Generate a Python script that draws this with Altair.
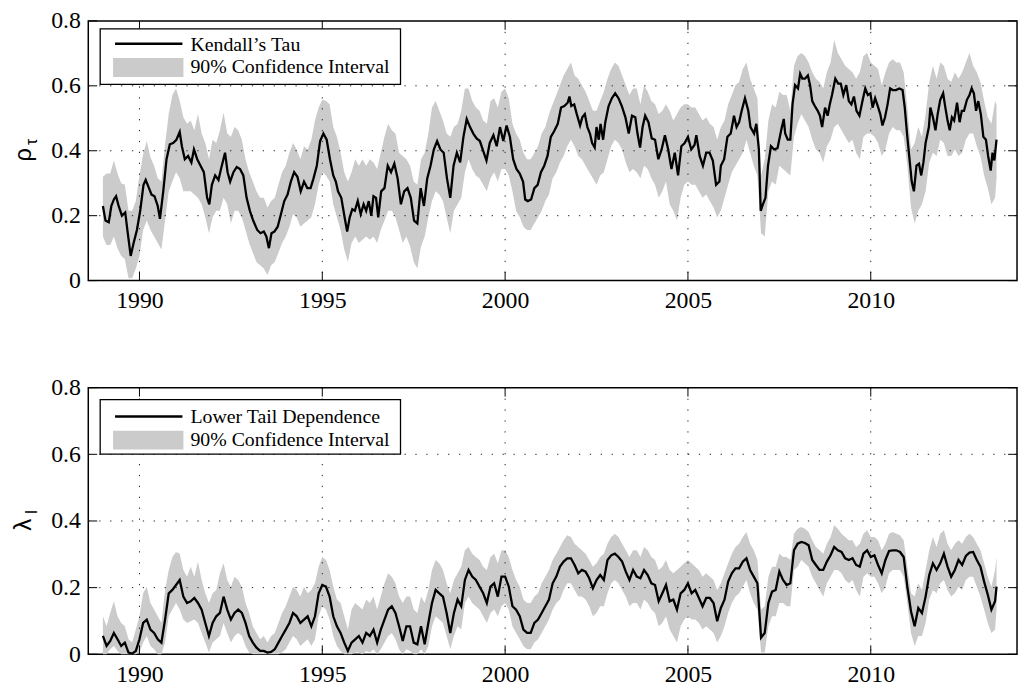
import altair as alt
import pandas as pd

FONT = "'Liberation Serif', 'Times New Roman', Times, serif"
GREEK = "'Liberation Sans', Arial, sans-serif"
BAND = "#cbcbcb"

X_DOMAIN = [1988.6, 2014.0]
X_TICKS = [1990, 1995, 2000, 2005, 2010]
Y_TICKS = [0, 0.2, 0.4, 0.6, 0.8]
Y_GRID = [0.2, 0.4, 0.6]

# sampling dates of the confidence bands and of the tail-dependence line
GRID_YEARS = [round(1989 + i / 10, 2) for i in range(245)] + [2013.44]

# Kendall's tau
TAU_YEARS = [
    1989.00, 1989.07, 1989.16, 1989.23, 1989.30, 1989.36, 1989.43, 1989.52, 1989.61, 1989.68,
    1989.76, 1989.84, 1989.93, 1990.02, 1990.11, 1990.17, 1990.26, 1990.33, 1990.41, 1990.50,
    1990.56, 1990.65, 1990.74, 1990.83, 1990.92, 1991.01, 1991.10, 1991.16, 1991.24, 1991.33,
    1991.42, 1991.49, 1991.58, 1991.67, 1991.76, 1991.85, 1991.91, 1991.98, 1992.07, 1992.16,
    1992.23, 1992.34, 1992.41, 1992.48, 1992.57, 1992.66, 1992.75, 1992.84, 1992.93, 1993.02,
    1993.11, 1993.22, 1993.31, 1993.40, 1993.47, 1993.54, 1993.61, 1993.69, 1993.78, 1993.87,
    1993.96, 1994.05, 1994.14, 1994.23, 1994.32, 1994.41, 1994.50, 1994.59, 1994.68, 1994.76,
    1994.85, 1994.94, 1995.03, 1995.12, 1995.21, 1995.30, 1995.37, 1995.43, 1995.52, 1995.61,
    1995.68, 1995.75, 1995.82, 1995.89, 1995.97, 1996.05, 1996.13, 1996.20, 1996.27, 1996.34,
    1996.40, 1996.47, 1996.53, 1996.61, 1996.70, 1996.79, 1996.88, 1996.97, 1997.06, 1997.15,
    1997.24, 1997.33, 1997.42, 1997.51, 1997.60, 1997.69, 1997.78, 1997.87, 1997.96, 1998.05,
    1998.14, 1998.23, 1998.32, 1998.41, 1998.50, 1998.59, 1998.68, 1998.77, 1998.86, 1998.95,
    1999.04, 1999.13, 1999.22, 1999.31, 1999.40, 1999.49, 1999.58, 1999.68, 1999.77, 1999.86,
    1999.95, 2000.04, 2000.13, 2000.22, 2000.31, 2000.40, 2000.49, 2000.55, 2000.62, 2000.71,
    2000.80, 2000.89, 2000.98, 2001.07, 2001.16, 2001.25, 2001.34, 2001.44, 2001.53, 2001.62,
    2001.71, 2001.76, 2001.81, 2001.89, 2001.96, 2002.05, 2002.11, 2002.18, 2002.25, 2002.32,
    2002.38, 2002.45, 2002.50, 2002.56, 2002.61, 2002.68, 2002.74, 2002.83, 2002.92, 2003.01,
    2003.10, 2003.19, 2003.29, 2003.38, 2003.47, 2003.56, 2003.62, 2003.69, 2003.76, 2003.83,
    2003.92, 2004.01, 2004.10, 2004.19, 2004.28, 2004.37, 2004.46, 2004.55, 2004.64, 2004.73,
    2004.82, 2004.91, 2005.00, 2005.09, 2005.18, 2005.23, 2005.32, 2005.41, 2005.50, 2005.59,
    2005.68, 2005.77, 2005.86, 2005.90, 2005.99, 2006.08, 2006.17, 2006.26, 2006.33, 2006.40,
    2006.47, 2006.56, 2006.65, 2006.71, 2006.81, 2006.87, 2006.94, 2006.99, 2007.05, 2007.12,
    2007.19, 2007.27, 2007.36, 2007.45, 2007.55, 2007.62, 2007.66, 2007.73, 2007.80, 2007.86,
    2007.93, 2008.01, 2008.07, 2008.13, 2008.20, 2008.28, 2008.34, 2008.40, 2008.47, 2008.55,
    2008.61, 2008.67, 2008.75, 2008.82, 2008.88, 2008.94, 2009.03, 2009.11, 2009.18, 2009.25,
    2009.33, 2009.40, 2009.47, 2009.54, 2009.61, 2009.69, 2009.78, 2009.85, 2009.92, 2009.99,
    2010.05, 2010.12, 2010.19, 2010.26, 2010.32, 2010.39, 2010.46, 2010.53, 2010.60, 2010.69,
    2010.78, 2010.87, 2010.93, 2011.00, 2011.06, 2011.12, 2011.18, 2011.25, 2011.32, 2011.38,
    2011.44, 2011.50, 2011.59, 2011.63, 2011.70, 2011.77, 2011.83, 2011.90, 2011.98, 2012.04,
    2012.10, 2012.16, 2012.22, 2012.28, 2012.36, 2012.43, 2012.49, 2012.55, 2012.63, 2012.70,
    2012.76, 2012.82, 2012.88, 2012.94, 2013.01, 2013.08, 2013.15, 2013.21, 2013.28, 2013.33,
    2013.38, 2013.44,
]
TAU_VALUES = [
    .230, .185, .180, .230, .250, .260, .230, .200, .210, .146,
    .076, .116, .156, .215, .295, .310, .285, .265, .260, .230,
    .190, .275, .374, .420, .424, .434, .458, .414, .374, .384,
    .364, .404, .374, .354, .334, .255, .235, .295, .324, .310,
    .344, .394, .334, .305, .334, .350, .344, .324, .255, .215,
    .185, .156, .146, .151, .136, .100, .146, .151, .166, .205,
    .245, .265, .305, .334, .320, .275, .305, .285, .285, .315,
    .354, .430, .453, .434, .374, .324, .305, .275, .255, .195,
    .151, .195, .220, .215, .245, .205, .235, .215, .245, .200,
    .260, .255, .195, .275, .285, .354, .334, .360, .315, .235,
    .275, .285, .255, .185, .176, .285, .230, .315, .354, .404,
    .430, .404, .394, .315, .255, .354, .394, .364, .443, .498,
    .473, .453, .438, .430, .400, .370, .424, .448, .414, .473,
    .430, .478, .443, .374, .344, .330, .305, .250, .245, .250,
    .285, .295, .334, .354, .384, .443, .460, .483, .533, .538,
    .548, .567, .538, .543, .513, .478, .503, .513, .473, .453,
    .424, .410, .473, .434, .483, .434, .488, .538, .562, .577,
    .562, .538, .503, .453, .508, .503, .453, .410, .473, .508,
    .488, .438, .434, .374, .404, .448, .404, .344, .394, .324,
    .414, .424, .443, .404, .418, .448, .384, .354, .394, .394,
    .370, .295, .305, .354, .374, .443, .453, .508, .473, .488,
    .523, .562, .523, .473, .453, .483, .404, .215, .235, .255,
    .354, .414, .404, .408, .463, .498, .453, .434, .434, .543,
    .602, .592, .637, .622, .622, .632, .602, .553, .538, .523,
    .508, .473, .533, .508, .543, .572, .622, .607, .607, .572,
    .602, .553, .543, .567, .523, .508, .557, .592, .572, .577,
    .533, .562, .538, .513, .478, .503, .543, .592, .587, .587,
    .592, .587, .533, .443, .374, .305, .275, .354, .360, .324,
    .364, .424, .473, .533, .503, .463, .513, .557, .577, .533,
    .493, .463, .503, .493, .548, .488, .523, .523, .557, .572,
    .592, .577, .523, .553, .513, .443, .434, .384, .339, .394,
    .370, .434,
]

# 90% confidence interval of Kendall's tau, one row per year (1989 ... 2013)
TAU_HI = [
    .320, .330, .330, .370, .330, .300, .295, .215, .215, .245,
    .324, .390, .430, .380, .354, .315, .305, .420, .513, .572,
    .592, .553, .503, .483, .493, .463, .513, .453, .424, .374,
    .434, .424, .463, .518, .453, .443, .473, .463, .434, .374,
    .334, .305, .275, .255, .255, .225, .245, .255, .295, .334,
    .354, .394, .424, .404, .374, .414, .404, .434, .493, .533,
    .557, .553, .543, .473, .443, .394, .334, .305, .334, .374,
    .354, .374, .354, .374, .364, .344, .394, .443, .483, .463,
    .453, .394, .384, .374, .354, .305, .295, .374, .394, .453,
    .533, .553, .523, .493, .453, .443, .473, .483, .523, .592,
    .592, .553, .533, .523, .493, .483, .553, .562, .533, .582,
    .592, .562, .483, .453, .434, .394, .374, .374, .394, .414,
    .453, .473, .513, .543, .572, .602, .632, .652, .672, .632,
    .622, .602, .582, .553, .523, .523, .553, .582, .622, .652,
    .672, .662, .632, .602, .572, .592, .592, .543, .602, .582,
    .553, .543, .513, .523, .543, .523, .493, .513, .533, .543,
    .543, .533, .533, .513, .493, .503, .483, .473, .434, .473,
    .493, .543, .572, .602, .612, .652, .672, .622, .592, .562,
    .324, .374, .493, .543, .533, .582, .572, .572, .523, .662,
    .692, .701, .692, .672, .642, .622, .612, .592, .642, .672,
    .741, .701, .682, .662, .652, .642, .622, .642, .692, .701,
    .672, .662, .652, .602, .642, .672, .682, .672, .672, .642,
    .533, .404, .424, .473, .443, .513, .612, .662, .622, .672,
    .662, .622, .612, .642, .622, .642, .672, .701, .662, .642,
    .612, .553, .503, .483, .553, .543,
]
TAU_LO = [
    .136, .110, .110, .136, .100, .076, .066, .007, .007, .037,
    .076, .156, .185, .156, .136, .116, .096, .185, .275, .305,
    .334, .315, .275, .275, .275, .265, .255, .235, .195, .146,
    .195, .215, .215, .255, .235, .176, .215, .215, .195, .156,
    .116, .086, .057, .047, .037, .017, .047, .057, .086, .116,
    .136, .166, .205, .195, .166, .176, .185, .195, .235, .295,
    .334, .324, .305, .235, .195, .156, .096, .057, .116, .136,
    .116, .126, .136, .126, .136, .116, .156, .185, .215, .215,
    .195, .156, .116, .136, .106, .057, .037, .106, .136, .195,
    .245, .275, .265, .245, .195, .146, .215, .235, .255, .334,
    .374, .344, .324, .315, .295, .275, .315, .334, .305, .344,
    .344, .324, .275, .215, .195, .166, .156, .156, .176, .195,
    .215, .245, .265, .315, .334, .364, .384, .414, .434, .414,
    .384, .374, .354, .334, .315, .295, .324, .334, .374, .414,
    .434, .424, .404, .364, .334, .344, .334, .315, .354, .344,
    .315, .295, .255, .275, .305, .235, .215, .185, .255, .295,
    .305, .295, .295, .275, .255, .265, .245, .225, .195, .215,
    .255, .295, .334, .354, .374, .394, .434, .394, .354, .324,
    .146, .136, .275, .305, .295, .354, .344, .334, .324, .443,
    .483, .513, .493, .473, .434, .404, .394, .364, .414, .434,
    .473, .483, .463, .443, .424, .434, .394, .374, .443, .453,
    .453, .443, .424, .384, .404, .453, .473, .463, .463, .443,
    .354, .225, .176, .215, .235, .275, .364, .394, .384, .434,
    .424, .384, .384, .404, .384, .394, .434, .453, .453, .414,
    .384, .324, .285, .235, .255, .315,
]

# lower tail dependence and its 90% confidence interval (lower panel)
LAM_VALUES = [
    .055, .025, .040, .064, .045, .025, .035, .005, .002, .010,
    .045, .094, .104, .074, .064, .045, .035, .104, .183, .193,
    .208, .223, .173, .154, .159, .169, .154, .134, .094, .055,
    .094, .114, .124, .173, .134, .104, .124, .134, .124, .094,
    .055, .035, .020, .010, .010, .005, .007, .015, .035, .055,
    .074, .094, .124, .114, .094, .104, .114, .084, .114, .183,
    .208, .203, .173, .114, .084, .064, .035, .010, .035, .045,
    .055, .035, .064, .055, .074, .035, .074, .104, .134, .144,
    .124, .084, .040, .084, .084, .035, .030, .084, .030, .094,
    .154, .193, .183, .173, .124, .064, .124, .164, .144, .223,
    .253, .233, .223, .203, .183, .154, .203, .213, .173, .233,
    .233, .203, .144, .134, .114, .074, .064, .064, .094, .104,
    .124, .144, .164, .213, .233, .263, .278, .288, .288, .268,
    .243, .253, .248, .228, .198, .223, .238, .223, .283, .297,
    .302, .292, .278, .248, .223, .253, .233, .228, .253, .238,
    .213, .208, .159, .183, .208, .159, .164, .134, .183, .193,
    .213, .183, .193, .169, .144, .169, .169, .154, .099, .139,
    .164, .218, .243, .258, .258, .278, .288, .253, .233, .213,
    .050, .064, .154, .188, .193, .248, .223, .208, .213, .312,
    .332, .337, .334, .327, .283, .268, .253, .253, .278, .297,
    .322, .312, .307, .288, .283, .288, .268, .263, .302, .312,
    .292, .297, .268, .243, .283, .310, .312, .312, .307, .292,
    .203, .129, .084, .139, .124, .173, .238, .273, .253, .273,
    .302, .263, .233, .253, .283, .268, .295, .305, .307, .283,
    .263, .218, .179, .134, .159, .203,
]
LAM_HI = [
    .114, .084, .124, .159, .114, .094, .084, .045, .035, .074,
    .114, .183, .203, .154, .134, .114, .094, .193, .253, .292,
    .307, .302, .253, .233, .263, .233, .278, .223, .183, .154,
    .183, .193, .243, .273, .223, .203, .233, .223, .203, .154,
    .124, .084, .064, .045, .055, .035, .055, .064, .094, .124,
    .144, .173, .203, .193, .173, .203, .183, .193, .213, .263,
    .292, .283, .253, .203, .164, .154, .114, .074, .134, .154,
    .144, .134, .164, .154, .173, .134, .173, .213, .243, .233,
    .213, .173, .154, .173, .173, .134, .124, .173, .154, .193,
    .253, .283, .273, .253, .213, .183, .223, .243, .263, .312,
    .322, .302, .292, .283, .263, .253, .292, .302, .273, .312,
    .312, .292, .253, .223, .203, .164, .154, .154, .173, .183,
    .213, .233, .253, .283, .302, .322, .342, .357, .352, .332,
    .322, .312, .302, .283, .263, .273, .292, .302, .332, .352,
    .362, .352, .332, .312, .292, .312, .312, .292, .322, .312,
    .292, .283, .253, .263, .283, .253, .243, .253, .263, .273,
    .283, .273, .263, .253, .233, .243, .233, .223, .193, .213,
    .243, .273, .302, .322, .332, .352, .367, .332, .312, .283,
    .134, .144, .233, .263, .263, .302, .292, .292, .283, .362,
    .377, .382, .377, .367, .342, .322, .312, .302, .332, .352,
    .387, .377, .362, .352, .342, .342, .322, .332, .362, .372,
    .352, .352, .342, .312, .332, .362, .367, .362, .357, .342,
    .263, .183, .173, .213, .193, .253, .312, .352, .322, .362,
    .372, .332, .312, .332, .342, .332, .352, .362, .352, .332,
    .312, .273, .233, .203, .253, .292,
]
LAM_LO = [
    .000, .000, .015, .025, .010, .000, .000, .000, .000, .000,
    .005, .035, .055, .025, .015, .000, .000, .035, .114, .134,
    .154, .134, .104, .094, .099, .104, .094, .064, .035, .005,
    .035, .045, .055, .094, .064, .035, .055, .064, .055, .025,
    .005, .000, .000, .000, .000, .000, .000, .000, .000, .005,
    .015, .035, .055, .045, .025, .035, .045, .025, .045, .114,
    .144, .134, .104, .055, .025, .010, .000, .000, .000, .005,
    .005, .000, .010, .005, .015, .000, .015, .035, .055, .064,
    .045, .015, .000, .015, .010, .000, .000, .015, .000, .025,
    .084, .114, .104, .094, .055, .015, .055, .084, .074, .154,
    .173, .154, .144, .134, .114, .094, .124, .134, .114, .144,
    .154, .134, .084, .064, .045, .025, .015, .015, .035, .045,
    .064, .084, .104, .134, .154, .164, .193, .213, .213, .193,
    .173, .173, .164, .144, .114, .124, .144, .144, .183, .213,
    .223, .213, .193, .173, .144, .154, .154, .134, .164, .154,
    .134, .124, .084, .094, .114, .074, .055, .035, .084, .104,
    .114, .104, .104, .094, .074, .084, .074, .064, .035, .055,
    .084, .124, .154, .173, .183, .203, .223, .183, .154, .134,
    .005, .005, .084, .114, .114, .154, .154, .144, .144, .253,
    .263, .283, .273, .263, .233, .213, .193, .173, .213, .233,
    .253, .253, .243, .223, .213, .223, .193, .173, .233, .243,
    .233, .233, .213, .183, .203, .243, .253, .253, .253, .233,
    .154, .064, .025, .055, .055, .094, .164, .193, .183, .213,
    .223, .193, .173, .183, .203, .193, .223, .233, .233, .203,
    .173, .134, .094, .064, .074, .134,
]

W = 937
H_TOP = 262
H_BOT = 269
TICK = 9

tau_line = pd.DataFrame({"year": TAU_YEARS, "v": TAU_VALUES})
tau_band = pd.DataFrame({"year": GRID_YEARS, "lo": TAU_LO, "hi": TAU_HI})
lam_line = pd.DataFrame({"year": GRID_YEARS, "v": LAM_VALUES})
lam_band = pd.DataFrame({"year": GRID_YEARS, "lo": LAM_LO, "hi": LAM_HI})
xt = pd.DataFrame({"year": X_TICKS})
yt = pd.DataFrame({"v": Y_TICKS})
yg = pd.DataFrame({"v": Y_GRID})
one = pd.DataFrame({"k": [0]})

XAXIS = alt.Axis(values=X_TICKS, format="d", labelFont=FONT, labelFontSize=24,
                 labelColor="black", labelPadding=8, domain=False, ticks=False,
                 tickSize=0, grid=False, title=None, labelFlush=False)
YAXIS = alt.Axis(values=Y_TICKS, labelExpr="datum.value == 0 ? '0' : format(datum.value, '.1f')",
                 labelFont=FONT, labelFontSize=24, labelColor="black", labelPadding=8,
                 domain=False, ticks=False, tickSize=0, grid=False, title=None, labelFlush=False)
XS = alt.Scale(domain=X_DOMAIN, nice=False, zero=False)
YS = alt.Scale(domain=[0, 0.8], nice=False, zero=False)


def xe(field):
    return alt.X(f"{field}:Q", scale=XS, axis=XAXIS)


def ye(field):
    return alt.Y(f"{field}:Q", scale=YS, axis=YAXIS)


def panel(line_df, band_df, H, line_label, sym_main, sym_sub, leg):
    band = alt.Chart(band_df).mark_area(color=BAND, opacity=1, interpolate="linear").encode(
        x=xe("year"), y=ye("lo"), y2="hi")
    vgrid = alt.Chart(xt).mark_rule(color="#222222", strokeWidth=1, strokeDash=[1.3, 9.7]).encode(
        x=xe("year"), y=alt.value(0), y2=alt.value(H))
    hgrid = alt.Chart(yg).mark_rule(color="#222222", strokeWidth=1, strokeDash=[1.3, 9.7]).encode(
        y=ye("v"), x=alt.value(0), x2=alt.value(W))
    line = alt.Chart(line_df).mark_line(color="black", strokeWidth=2.3).encode(
        x=xe("year"), y=ye("v"))
    tb = alt.Chart(xt).mark_rule(color="black", strokeWidth=1).encode(
        x=xe("year"), y=alt.value(H), y2=alt.value(H - TICK))
    tt = alt.Chart(xt).mark_rule(color="black", strokeWidth=1).encode(
        x=xe("year"), y=alt.value(0), y2=alt.value(TICK))
    tl = alt.Chart(yt).mark_rule(color="black", strokeWidth=1).encode(
        y=ye("v"), x=alt.value(0), x2=alt.value(TICK))
    tr = alt.Chart(yt).mark_rule(color="black", strokeWidth=1).encode(
        y=ye("v"), x=alt.value(W - TICK), x2=alt.value(W))
    box = alt.Chart(one).mark_rect(fill="white", stroke="black", strokeWidth=1.3).encode(
        x=alt.value(12), x2=alt.value(315), y=alt.value(leg[0]), y2=alt.value(leg[1]))
    sample = alt.Chart(one).mark_rule(color="black", strokeWidth=2.5).encode(
        x=alt.value(27), x2=alt.value(95), y=alt.value(leg[2]))
    patch = alt.Chart(one).mark_rect(fill=BAND).encode(
        x=alt.value(25), x2=alt.value(96), y=alt.value(leg[3] - 9.5), y2=alt.value(leg[3] + 9.5))
    t1 = alt.Chart(one).mark_text(text=line_label, font=FONT, fontSize=20, align="left",
                                  baseline="middle", color="black").encode(
        x=alt.value(103), y=alt.value(leg[2] + 1))
    t2 = alt.Chart(one).mark_text(text="90% Confidence Interval", font=FONT, fontSize=20,
                                  align="left", baseline="middle", color="black").encode(
        x=alt.value(103), y=alt.value(leg[3]))
    s_main = alt.Chart(one).mark_text(text=sym_main, font=GREEK, fontSize=24, angle=270,
                                      align="center", baseline="middle", color="black").encode(
        x=alt.value(-65), y=alt.value(H / 2 + 4))
    s_sub = alt.Chart(one).mark_text(text=sym_sub, font=GREEK, fontSize=16, angle=270,
                                     align="center", baseline="middle", color="black").encode(
        x=alt.value(-57), y=alt.value(H / 2 - 9))
    spacer = alt.Chart(one).mark_rule(strokeOpacity=0).encode(
        x=alt.value(-80), x2=alt.value(-79), y=alt.value(H / 2))
    return alt.layer(band, vgrid, hgrid, line, tb, tt, tl, tr, box, sample, patch, t1, t2,
                     s_main, s_sub, spacer).properties(width=W, height=H)


top = panel(tau_line, tau_band, H_TOP, "Kendall’s Tau", "ρ", "τ", (8, 64, 23, 47))
bottom = panel(lam_line, lam_band, H_BOT, "Lower Tail Dependence", "λ", "l", (12, 67, 29, 53))

chart = alt.vconcat(top, bottom, spacing=62).properties(
    padding={"top": -3, "left": 0, "right": 0, "bottom": 0}
).configure_view(stroke="black", strokeWidth=1.5)

chart.save("out.html", embed_options={"renderer": "svg", "actions": False})
